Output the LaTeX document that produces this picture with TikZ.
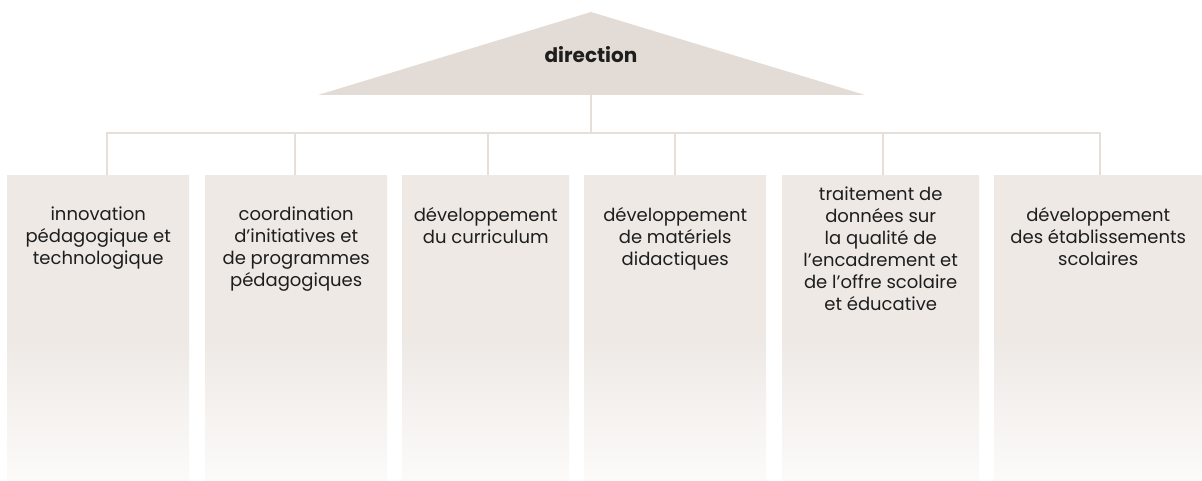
\documentclass[tikz,border=0pt]{standalone}
\usepackage{fontspec}
\setmainfont{Poppins}
\definecolor{boxc}{HTML}{EEE9E5}
\definecolor{fadec}{HTML}{FCFBFA}
\definecolor{tric}{HTML}{E3DCD6}
\definecolor{linec}{HTML}{E6DFD9}
\definecolor{txtc}{HTML}{1E1E1E}
\pgfdeclareverticalshading{boxfade}{100bp}{color(0bp)=(fadec); color(25bp)=(fadec); color(48bp)=(boxc); color(100bp)=(boxc)}
\begin{document}
\begin{tikzpicture}[x=1pt,y=-1pt,
  box/.style={rectangle, draw=none, shading=boxfade, minimum height=306pt, inner sep=0pt, anchor=north west},
  lbl/.style={align=center, anchor=north, font=\fontsize{18}{22}\selectfont, text=txtc, inner sep=0pt},
  conn/.style={draw=linec, line width=2pt}]
\useasboundingbox (0,0) rectangle (1202,481);
% triangle
\fill[tric] (318,95) -- (591,12) -- (865,95) -- cycle;
\node[font=\bfseries\fontsize{20}{24}\selectfont, text=txtc, inner sep=0pt] (dir) at (591,55) {direction};
\coordinate (tribase) at (591,95);
\coordinate (hub) at (591,133);
% boxes
\node[box, minimum width=182pt] (b1) at (7,175) {};
\node[box, minimum width=182pt] (b2) at (205,175) {};
\node[box, minimum width=167pt] (b3) at (402,175) {};
\node[box, minimum width=182pt] (b4) at (584,175) {};
\node[box, minimum width=197pt] (b5) at (782,175) {};
\node[box, minimum width=208pt] (b6) at (994,175) {};
% bar coordinates
\coordinate (c1) at (107,133);
\coordinate (c2) at (295,133);
\coordinate (c3) at (488,133);
\coordinate (c4) at (675,133);
\coordinate (c5) at (883,133);
\coordinate (c6) at (1100,133);
% connectors
\draw[conn] (tribase) -- (hub);
\draw[conn] (c1 |- b1.north) -- (c1) -- (c6) -- (c6 |- b6.north);
\draw[conn] (c2) -- (c2 |- b2.north);
\draw[conn] (c3) -- (c3 |- b3.north);
\draw[conn] (c4) -- (c4 |- b4.north);
\draw[conn] (c5) -- (c5 |- b5.north);
% labels
\node[lbl] (t1) at ([yshift=-32pt]b1.north) {innovation\\pédagogique et\\technologique};
\node[lbl] (t2) at ([yshift=-32pt]b2.north) {coordination\\d’initiatives et\\de programmes\\pédagogiques};
\node[lbl] (t3) at ([yshift=-32pt]b3.north) {développement\\du curriculum};
\node[lbl] (t4) at ([yshift=-32pt]b4.north) {développement\\de matériels\\didactiques};
\node[lbl] (t5) at ([yshift=-12pt]b5.north) {traitement de\\données sur\\la qualité de\\l’encadrement et\\de l’offre scolaire\\et éducative};
\node[lbl] (t6) at ([yshift=-32pt]b6.north) {développement\\des établissements\\scolaires};
\end{tikzpicture}
\end{document}
